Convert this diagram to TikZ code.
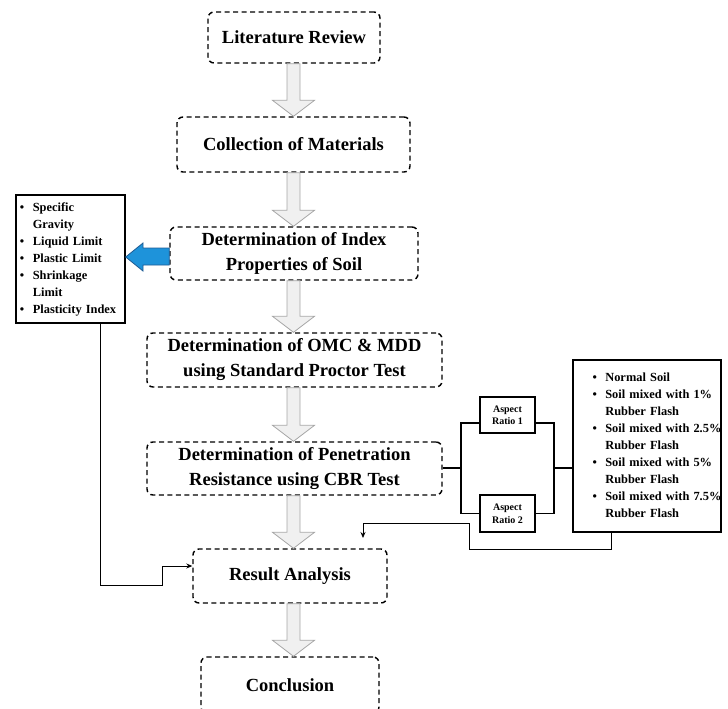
\documentclass[tikz,border=0pt]{standalone}
\usepackage{fontspec}
\setmainfont{Liberation Serif}
\usetikzlibrary{arrows.meta,calc}
\definecolor{flowblue}{HTML}{1E93DA}
\definecolor{flowblueline}{HTML}{1F5C94}

\begin{document}
\begin{tikzpicture}[x=1pt, y=-1pt,
    stage/.style={draw, dash pattern=on 5pt off 3.5pt, line width=1.4pt, rounded corners=6pt, align=center, inner sep=0pt, font=\fontsize{18.5}{25}\selectfont\bfseries},
    listbox/.style={draw, line width=1.4pt, inner sep=0pt, align=left, font=\fontsize{12.4}{17}\selectfont\bfseries},
    ratio/.style={draw, line width=1.4pt, inner sep=0pt, minimum width=55pt, align=center, font=\fontsize{10}{12.5}\selectfont\bfseries},
    flow/.style={draw=gray!70, fill=black!6, line width=0.8pt},
    wire/.style={line width=1.4pt},
    link/.style={-{Stealth[length=6pt,width=5pt]}, line width=0.8pt}
]
\useasboundingbox (0,0) rectangle (728,709);

\node[stage, minimum width=172pt, minimum height=51pt] (lit) at (294,37.5) {Literature Review};
\node[stage, minimum width=233pt, minimum height=55pt] (coll) at (293.5,144.5) {Collection of Materials};
\node[stage, minimum width=248pt, minimum height=53pt] (index) at (294,253.5) {Determination of Index\\Properties of Soil};
\node[stage, minimum width=295pt, minimum height=54pt] (omc) at (294.5,360) {Determination of OMC \& MDD\\using Standard Proctor Test};
\node[stage, minimum width=295pt, minimum height=53pt] (pen) at (294.5,468.5) {Determination of Penetration\\Resistance using CBR Test};
\node[stage, minimum width=194pt, minimum height=54pt] (result) at (290,576) {Result Analysis};
\node[stage, minimum width=178pt, minimum height=56pt] (concl) at (290,685) {Conclusion};

\node[listbox, text width=109pt, minimum height=128pt] (props) at (70.5,259) {%
\begin{tabular}{@{\hspace{4pt}}c@{\hspace{8.5pt}}l@{}}
\textbullet & Specific\\
 & Gravity\\
\textbullet & Liquid Limit\\
\textbullet & Plastic Limit\\
\textbullet & Shrinkage\\
 & Limit\\
\textbullet & Plasticity Index
\end{tabular}};

\node[listbox, text width=148pt, minimum height=172pt] (mix) at (647,446) {%
\begin{tabular}{@{\hspace{19.5pt}}c@{\hspace{8.5pt}}l@{}}
\textbullet & Normal Soil\\
\textbullet & Soil mixed with 1\%\\
 & Rubber Flash\\
\textbullet & Soil mixed with 2.5\%\\
 & Rubber Flash\\
\textbullet & Soil mixed with 5\%\\
 & Rubber Flash\\
\textbullet & Soil mixed with 7.5\%\\
 & Rubber Flash
\end{tabular}};

\node[ratio, minimum height=36pt] (ar1) at (507.5,415) {Aspect\\Ratio 1};
\node[ratio, minimum height=37pt] (ar2) at (507.5,513.5) {Aspect\\Ratio 2};

% hollow arrows down the main column
\foreach \a/\b in {lit/coll,coll/index,index/omc,omc/pen,pen/result,result/concl}
  \draw[flow] let \p1=(\a.south), \p2=(\b.north) in
    (287pt,\y1) -- (300pt,\y1) -- (300pt,\y2+16pt) -- (314.5pt,\y2+16pt) -- (293.5pt,\y2)
    -- (272.5pt,\y2+16pt) -- (287pt,\y2+16pt) -- cycle;

% blue arrow to the index list
\draw[fill=flowblue, draw=flowblueline, line width=0.8pt]
  (index.west |- 0,248) -- (143,248) -- (143,243) -- (props.east |- 0,257)
  -- (143,271) -- (143,265) -- (index.west |- 0,265) -- cycle;

% aspect ratio branches
\coordinate (jl) at (461,468);
\coordinate (jr) at (554,468);
\draw[wire] (pen.east |- jl) -- (jl);
\draw[wire] ([yshift=-8pt]ar1.west) -| (jl) |- (ar2.west);
\draw[wire] ([yshift=-8pt]ar1.east) -| (jr) |- (ar2.east);
\draw[wire] (jr) -- (mix.west |- jr);

% links into the result analysis
\coordinate (rin) at (363,538);
\draw[link] ([xshift=29.5pt]props.south) |- (162,585) |- ([yshift=10pt]result.west);
\draw[link] ([xshift=-36pt]mix.south) |- (469,549) -- (469,523) -| (rin);
\end{tikzpicture}
\end{document}
